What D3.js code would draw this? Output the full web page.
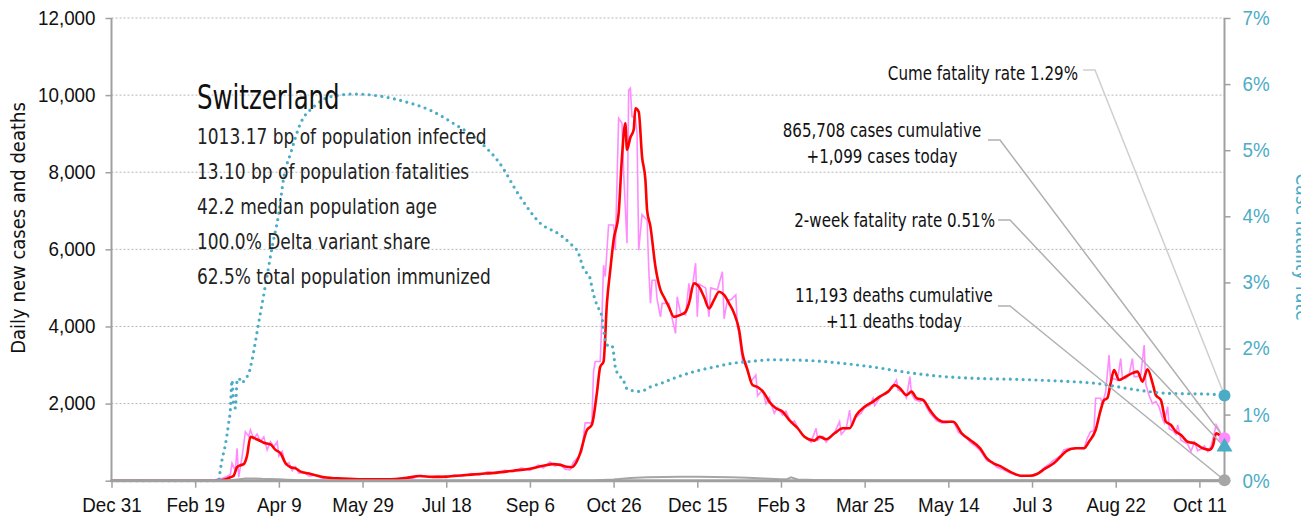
<!DOCTYPE html>
<html><head><meta charset="utf-8">
<script src="https://cdn.jsdelivr.net/npm/d3@7"></script>
<style>
html,body{margin:0;padding:0;background:#fff;}
svg{display:block;font-family:"Liberation Sans Narrow","DejaVu Sans Condensed","Arial Narrow",sans-serif;}
</style></head><body>
<svg id="chart" width="1301" height="521"></svg>
<script>
// Days are counted from 31 Dec 2019.
const avgDays  = [0,60,64,68,71,73,75,77,79,81,83,85,88,91,95,98,101,104,107,110,113,119,127,138,150,165,176,184,192,200,210,220,230,240,250,258,264,268,272,275,278,280,284,287,290,292,294,296,298,300,303,305,307,308,310,312,313,315,317,319,320,322,325,328,330,333,336,340,343,345,348,351,354,357,360,363,366,369,372,375,377,380,383,386,390,393,397,401,405,410,414,420,423,427,432,437,441,445,450,455,459,464,468,471,475,478,481,485,489,493,497,503,508,513,519,523,527,531,535,539,543,549,553,558,563,567,571,576,581,584,588,591,593,595,597,599,602,606,610,613,616,619,622,624,627,630,633,636,639,643,647,652,656,658,660,663,665];
const avgCases = [0,0,5,40,90,130,350,400,430,650,1140,1110,1050,985,940,800,710,450,350,320,235,175,90,55,35,35,70,120,100,105,140,175,210,260,310,390,430,410,360,350,500,710,1310,1450,2270,2950,3090,4600,5460,6240,6930,8400,9270,8580,8900,9100,9660,9570,8400,7800,7020,6590,5550,4950,4770,4510,4250,4300,4380,4600,5120,5030,4770,4470,4690,4900,4820,4600,4340,3900,3300,2870,2480,2430,2270,2050,1880,1790,1570,1360,1140,1040,1140,1075,1230,1360,1360,1700,1920,2050,2180,2310,2480,2400,2220,2310,2140,2090,1830,1620,1530,1530,1230,1055,840,580,450,380,280,190,130,130,175,320,450,620,780,840,840,1010,1315,1830,2090,2140,2530,2870,2610,2700,2790,2830,2570,2890,2530,2220,2090,1530,1445,1270,1185,1010,970,840,800,900,1230,1150,1100];

const dailyDays  = [0,55,58,62,66,69,71,72,74,75,76,78,80,82,83,85,87,89,91,93,95,97,99,100,102,104,106,108,110,112,115,118,122,126,130,135,140,148,155,163,170,175,180,185,190,195,200,205,210,215,220,225,230,235,240,245,250,255,258,262,265,268,271,274,276,279,281,283,287,288,289,292,293,294,295,297,300,301,303,305,306,308,309,310,311,313,314,315,317,320,321,322,323,325,326,328,329,333,335,337,338,340,343,345,346,349,350,351,355,357,358,362,365,366,368,370,373,374,375,377,379,382,385,386,389,391,393,396,398,401,403,406,408,411,413,415,418,421,422,425,427,430,432,435,436,439,441,442,445,448,450,453,455,456,459,462,464,466,469,470,473,475,477,478,480,483,485,487,489,491,493,496,499,502,504,506,508,511,513,516,519,521,523,526,529,532,535,538,541,544,548,551,554,557,560,562,564,567,569,572,575,578,581,583,585,587,588,591,592,594,596,597,599,601,603,604,606,608,610,611,613,615,617,618,620,622,624,626,628,629,631,632,634,636,637,639,641,643,645,647,649,651,653,655,657,659,660,662,663,665];
const dailyCases = [0,0,10,30,60,110,160,450,260,840,90,620,1270,1150,1320,1090,1210,1020,1140,800,1010,880,1010,640,760,420,470,260,360,190,220,120,150,60,80,45,40,25,35,20,30,85,60,140,85,125,80,150,115,185,150,235,180,270,225,335,260,410,330,490,380,430,300,280,480,620,760,1500,1500,2830,3090,3090,4200,5590,5290,6630,6630,5980,9400,9270,8000,6160,10130,10180,9440,9440,9000,5980,6900,6760,5500,4600,5200,5200,4700,4250,4600,4600,4200,3820,4770,4350,4300,5120,4700,5640,4250,5100,5000,4250,5000,4950,5420,4200,4690,4690,4820,4000,3800,3090,3090,2570,2740,2200,2350,2000,2150,1750,1900,1700,1800,1500,1550,1300,1200,1100,1000,1360,1050,1150,1000,1150,1250,1530,1200,1350,1830,1450,1650,1750,1900,1950,2140,1950,2150,2250,2300,2400,2610,2350,2300,2150,2700,2250,2100,2050,2100,1900,1750,1650,1550,1500,1500,1550,1450,1250,1200,1100,1000,900,780,650,520,480,350,300,240,180,140,110,120,160,200,330,420,500,560,650,800,840,820,860,830,1100,1270,1300,2140,2140,2000,2300,3260,2600,2650,2600,3170,2650,2650,2750,3170,2700,2700,2750,3520,2500,2200,2000,2050,1900,1600,1500,1920,1350,1300,1200,1450,1050,1000,950,760,1000,780,820,900,760,900,1250,1450,1300,1150,1099];

const deathDays   = [0,65,70,75,80,85,90,95,100,105,110,120,130,150,200,250,280,290,300,310,320,330,340,350,360,370,380,390,400,404,406,410,420,440,460,500,550,600,630,665];
const deathValues = [0,0,5,30,55,60,50,45,35,25,15,8,3,1,1,2,3,10,30,70,90,95,100,105,95,90,75,55,40,45,90,30,20,12,8,5,2,4,8,11];

const cfrDays = [0,64,65,66,68,70,71,72,73,74,75,76,78,80,82,84,88,92,96,100,103,107,113,121,131,145,160,176,190,204,220,232,244,256,268,274,279,282,286,287,289,291,293,294,296,299,300,301,303,306,307,310,316,322,328,336,348,360,372,380,395,415,435,455,475,495,515,545,565,589,611,632,656,665];
const cfrPct  = [0,0,0.16,0.31,0.54,0.87,1.07,1.52,1.15,1.10,1.50,1.55,1.48,1.55,1.62,1.83,2.40,2.96,3.54,4.05,4.60,4.95,5.41,5.66,5.81,5.85,5.82,5.73,5.61,5.41,5.13,4.80,4.30,3.90,3.72,3.59,3.44,3.21,3.06,2.93,2.73,2.61,2.48,2.28,2.05,2.05,1.93,1.72,1.60,1.52,1.42,1.37,1.35,1.42,1.47,1.55,1.65,1.72,1.78,1.80,1.83,1.82,1.78,1.72,1.64,1.58,1.55,1.53,1.51,1.47,1.38,1.32,1.31,1.29];

const leftTicks  = [0,2000,4000,6000,8000,10000,12000];
const rightTicks = [0,1,2,3,4,5,6,7];
const tickDays   = [0,50,100,150,200,250,300,350,400,450,500,550,600,650];

const statLines = [
  "1013.17 bp of population infected",
  "13.10 bp of population fatalities",
  "42.2 median population age",
  "100.0% Delta variant share",
  "62.5% total population immunized"
];
const lastDay = 665;
const todayCases = 1099, todayDeaths = 11, cumeRate = 1.29, twoWeekRate = 0.51;

const TEAL = "#4bacc6";
const origin = new Date(Date.UTC(2019, 11, 31));
const day = d => d3.utcDay.offset(origin, d);

// narrow the condensed face horizontally, keeping its anchor point
function squeeze(sel, k) {
  sel.each(function () {
    const t = d3.select(this);
    const xv = +(t.attr("x") || 0);
    t.attr("x", xv / k).attr("transform", ((t.attr("transform") || "") + ` scale(${k},1)`).trim());
  });
}

const svg = d3.select("#chart");
const x = d3.scaleUtc().domain([origin, day(lastDay)]).range([111.5, 1224.5]);
const yL = d3.scaleLinear().domain([0, 12000]).range([480.7, 18]);
const yR = d3.scaleLinear().domain([0, 7]).range([480.7, 18]);

// dotted horizontal grid
svg.append("g").selectAll("line").data(leftTicks.filter(v => v > 0)).join("line")
  .attr("x1", x.range()[0]).attr("x2", x.range()[1])
  .attr("y1", d => yL(d)).attr("y2", d => yL(d))
  .attr("stroke", "#b8b8b8").attr("stroke-width", 1).attr("stroke-dasharray", "2,2");

// series
const pts = (days, vals) => days.map((d, i) => [day(d), vals[i]]);
const lineL = d3.line().x(d => x(d[0])).y(d => yL(d[1]));
const lineR = d3.line().x(d => x(d[0])).y(d => yR(d[1])).curve(d3.curveMonotoneX);

svg.append("path").attr("d", lineL(pts(deathDays, deathValues)))
  .attr("fill", "none").attr("stroke", "#a6a6a6").attr("stroke-width", 2);

svg.append("path").attr("d", lineL(pts(dailyDays, dailyCases)))
  .attr("fill", "none").attr("stroke", "#ff8cff").attr("stroke-width", 1.6);

svg.append("path").attr("d", lineL.curve(d3.curveMonotoneX)(pts(avgDays, avgCases)))
  .attr("fill", "none").attr("stroke", "#ff0000").attr("stroke-width", 2.6);

svg.append("path").attr("d", lineR(pts(cfrDays, cfrPct)))
  .attr("fill", "none").attr("stroke", TEAL).attr("stroke-width", 3.2)
  .attr("stroke-linecap", "round").attr("stroke-dasharray", "0,6.4");

// axes
const axisColor = "#a0a0a0";
const gx = svg.append("g").attr("transform", `translate(0,${yL(0)})`)
  .call(d3.axisBottom(x).tickValues(tickDays.map(day)).tickFormat(d3.utcFormat("%b %-d")).tickSize(7).tickPadding(10));
const gl = svg.append("g").attr("transform", `translate(${x.range()[0]},0)`)
  .call(d3.axisLeft(yL).tickValues(leftTicks).tickFormat(d => d === 0 ? "" : d3.format(",")(d)).tickSize(6).tickPadding(10));
const gr = svg.append("g").attr("transform", `translate(${x.range()[1]},0)`)
  .call(d3.axisRight(yR).tickValues(rightTicks).tickFormat(d => d + "%").tickSize(6).tickPadding(12));

[gx, gl, gr].forEach(g => {
  g.select(".domain").attr("stroke", axisColor).attr("stroke-width", 2);
  g.selectAll(".tick line").attr("stroke", axisColor).attr("stroke-width", 1.5);
  g.selectAll("text").attr("font-size", 20).attr("font-family", null).attr("fill", "#111");
  squeeze(g.selectAll("text"), 0.94);
});
gx.select(".domain").attr("stroke-width", 3).attr("d", `M${x.range()[0]},0H${x.range()[1]}`);
gl.select(".domain").attr("d", `M0,${yL(12000)}V${yL(0)}`);
gr.select(".domain").attr("d", `M0,${yR(7)}V${yR(0)}`);
gr.selectAll("text").attr("fill", TEAL);

svg.append("text").attr("transform", `translate(25,228) rotate(-90)`)
  .attr("text-anchor", "middle").attr("font-size", 20).attr("fill", "#111")
  .text("Daily new cases and deaths");
svg.append("text").attr("transform", `translate(1296,247) rotate(90)`)
  .attr("text-anchor", "middle").attr("font-size", 19).attr("fill", TEAL)
  .text("Case fatality rate");

// title block
squeeze(svg.append("text").attr("x", 197).attr("y", 109).attr("font-size", 34).attr("fill", "#111")
  .text("Switzerland"), 0.8);
squeeze(svg.append("g").selectAll("text").data(statLines).join("text")
  .attr("x", 197).attr("y", (d, i) => 144 + i * 35)
  .attr("font-size", 21).attr("fill", "#222").text(d => d), 0.9);

// annotations with leader lines to the end markers
const xe = x(day(lastDay));
const notes = [
  {lines: ["Cume fatality rate 1.29%"], anchor: "end", tx: 1078, ty: 80, lx: 1083, ly: 70, ty2: yR(cumeRate), color: "#cfcfcf"},
  {lines: ["865,708 cases cumulative", "+1,099 cases today"], anchor: "middle", tx: 882, ty: 137, lx: 988, ly: 140, ty2: yL(todayCases), color: "#b0b0b0"},
  {lines: ["2-week fatality rate 0.51%"], anchor: "end", tx: 995, ty: 227, lx: 998, ly: 220, ty2: yR(twoWeekRate), color: "#b0b0b0"},
  {lines: ["11,193 deaths cumulative", "+11 deaths today"], anchor: "middle", tx: 894, ty: 302, lx: 998, ly: 306, ty2: yL(todayDeaths), color: "#b0b0b0"}
];
notes.forEach(n => {
  svg.append("path").attr("d", `M${n.lx},${n.ly}H${n.lx + 12}L${xe},${n.ty2}`)
    .attr("fill", "none").attr("stroke", n.color).attr("stroke-width", 1.5);
  n.lines.forEach((t, i) => squeeze(svg.append("text").attr("x", n.tx).attr("y", n.ty + i * 26)
    .attr("text-anchor", n.anchor).attr("font-size", 20).attr("fill", "#111").text(t), 0.84));
});

// end markers
svg.append("circle").attr("cx", xe).attr("cy", yL(todayDeaths)).attr("r", 6).attr("fill", "#a6a6a6");
svg.append("circle").attr("cx", xe).attr("cy", yL(todayCases)).attr("r", 6).attr("fill", "#ff8cff");
svg.append("path").attr("d", d3.symbol(d3.symbolTriangle, 110)())
  .attr("transform", `translate(${xe},${yR(twoWeekRate)})`).attr("fill", TEAL);
svg.append("circle").attr("cx", xe).attr("cy", yR(cumeRate)).attr("r", 6).attr("fill", TEAL);
</script></body></html>
